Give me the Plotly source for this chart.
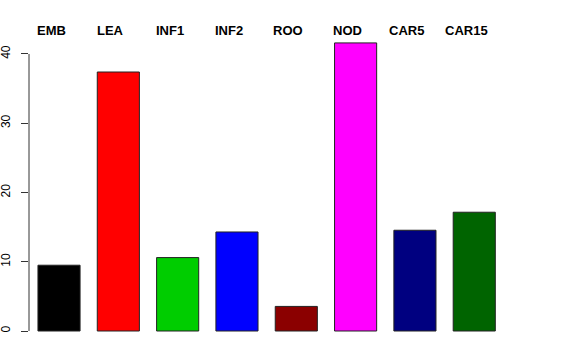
import plotly.graph_objects as go

categories = ["EMB", "LEA", "INF1", "INF2", "ROO", "NOD", "CAR5", "CAR15"]
values = [9.5, 37.4, 10.6, 14.3, 3.55, 41.6, 14.55, 17.15]
colors = ["#000000", "#FF0000", "#00CD00", "#0000FF", "#8B0000", "#FF00FF", "#000080", "#006400"]
y_ticks = [0, 10, 20, 30, 40]

fig = go.Figure()
fig.add_trace(go.Bar(
    x=categories, y=values,
    marker=dict(color=colors, line=dict(color="#222222", width=1)),
    showlegend=False, hoverinfo="skip",
))

for c in categories:
    fig.add_annotation(x=c, xref="x", y=1, yref="paper", text="<b>%s</b>" % c,
                       showarrow=False, xanchor="center", yanchor="middle",
                       xshift=-8, yshift=1,
                       font=dict(family="Liberation Sans, Arial, sans-serif", size=13, color="black"))

# y axis line spanning only the tick range (R style)
fig.add_shape(type="line", xref="paper", yref="y", x0=0, x1=0,
              y0=y_ticks[0], y1=y_ticks[-1], line=dict(color="#333333", width=1))

fig.update_layout(
    width=576, height=360,
    margin=dict(l=29, r=62, t=31, b=18, autoexpand=False),
    paper_bgcolor="white", plot_bgcolor="white",
    bargap=0.29,
    font=dict(family="Liberation Sans, Arial, sans-serif", size=12, color="black"),
    xaxis=dict(range=[-0.506, 7.67], showticklabels=False, showgrid=False, automargin=False,
               zeroline=False, showline=False, ticks="", fixedrange=True),
    yaxis=dict(range=[-1.588, 43.32], tickvals=y_ticks, ticks="outside", ticklen=7,
               tickcolor="#333333", tickangle=-90, showgrid=False, zeroline=False,
               showline=False, ticklabelstandoff=6, automargin=False,
               tickfont=dict(size=12, family="Liberation Sans, Arial, sans-serif")),
)

fig.write_html("out.html", config={"displayModeBar": False, "staticPlot": True},
               post_script="document.body.style.margin='0';")
